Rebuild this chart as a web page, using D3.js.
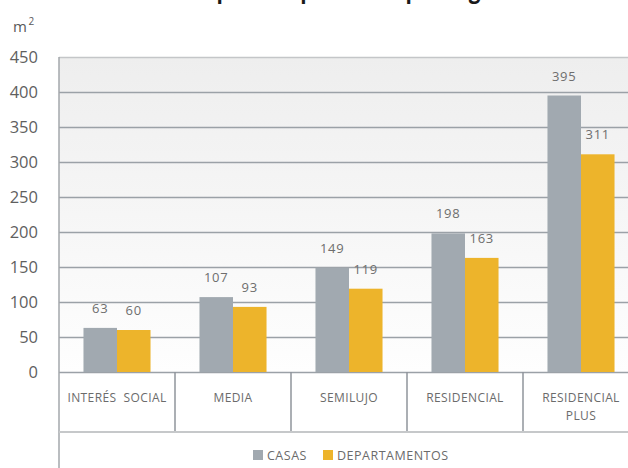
<!DOCTYPE html>
<html>
<head>
<meta charset="utf-8">
<script src="https://cdn.jsdelivr.net/npm/d3@7"></script>
<style>
    body { margin: 0; background: #ffffff; }
    #bar-chart { width: 628px; height: 468px; overflow: hidden; }
    text { font-family: "Open Sans", "DejaVu Sans", sans-serif; }
</style>
</head>
<body>
<div id="bar-chart"></div>
<script>

const categories = ['INTERÉS  SOCIAL', 'MEDIA', 'SEMILUJO', 'RESIDENCIAL', 'RESIDENCIAL PLUS'];
const categoryLines = [['INTERÉS  SOCIAL'], ['MEDIA'], ['SEMILUJO'], ['RESIDENCIAL'], ['RESIDENCIAL', 'PLUS']];
const casas = [63, 107, 149, 198, 395];
const departamentos = [60, 93, 119, 163, 311];
const seriesNames = ['CASAS', 'DEPARTAMENTOS'];
const seriesColors = ['#a1a9b0', '#edb42b'];
const yTicks = [0, 50, 100, 150, 200, 250, 300, 350, 400, 450];


const renderBarGraph = function(svgWidth, svgHeight, svgElem) {

    const svgMargin = {top: 57, left: 59};
    const innerWidth = 580;   // five bands of 116px, the right one runs off the picture
    const innerHeight = 315;
    const tableHeight = 60;

    const xScale = d3.scaleBand()
                     .domain(categories)
                     .range([0, innerWidth]);

    const subScale = d3.scaleBand()
                       .domain(seriesNames)
                       .range([0, xScale.bandwidth() * 0.578]);

    const yScale = d3.scaleLinear()
                     .domain([0, 450])
                     .range([innerHeight, 0]);

    const defs = svgElem.append('defs');
    const grad = defs.append('linearGradient')
                     .attr('id', 'plot-bg')
                     .attr('x1', 0).attr('y1', 0)
                     .attr('x2', 0).attr('y2', 1);
    grad.append('stop').attr('offset', '0%').attr('stop-color', '#eeeeee');
    grad.append('stop').attr('offset', '100%').attr('stop-color', '#fefefe');

    // title, only its descenders fall inside the picture
    svgElem.append('text')
           .attr('x', 370)
           .attr('y', -2.5)
           .attr('text-anchor', 'middle')
           .attr('font-size', 25)
           .attr('font-weight', 'bold')
           .attr('fill', '#1a1a1a')
           .attr('textLength', 357)
           .attr('lengthAdjust', 'spacingAndGlyphs')
           .text('Superficie promedio por segmento');

    const unit = svgElem.append('text')
                        .attr('x', 13)
                        .attr('y', 32)
                        .attr('font-size', 15)
                        .attr('fill', '#595959');
    unit.append('tspan').text('m');
    unit.append('tspan')
        .attr('font-size', 10)
        .attr('dx', 1.5)
        .attr('dy', -7)
        .text('2');

    const svgG = svgElem.append('g')
                        .attr('transform', `translate(${svgMargin.left}, ${svgMargin.top})`);

    svgG.append('rect')
        .attr('x', 0)
        .attr('y', 0)
        .attr('width', innerWidth)
        .attr('height', innerHeight)
        .attr('fill', 'url(#plot-bg)');

    const yAxis = d3.axisLeft(yScale)
                    .tickValues(yTicks)
                    .tickSize(-innerWidth)
                    .tickPadding(21);

    const yAxisGroup = svgG.append('g')
                           .attr('id', 'y-axis')
                           .call(yAxis);

    yAxisGroup.select('.domain').remove();
    yAxisGroup.selectAll('.tick line')
              .attr('stroke', function(d) {
                  return d === 450 ? '#c4c6c8' : '#9ba1a7';
              })
              .attr('stroke-width', 1.5);
    yAxisGroup.selectAll('.tick text')
              .attr('font-size', 16.5)
              .attr('fill', '#5f5f5f')
              .style('font-family', '"Open Sans", sans-serif');

    // left axis line, runs down through the table to the bottom
    svgG.append('line')
        .attr('x1', 0).attr('x2', 0)
        .attr('y1', 0).attr('y2', svgHeight)
        .attr('stroke', '#a3a7ab')
        .attr('stroke-width', 1.5);

    const groups = svgG.selectAll('.bar-group')
                       .data(categories)
                       .enter()
                       .append('g')
                       .attr('class', 'bar-group')
                       .attr('transform', function(d) {
                           const offset = xScale(d) + xScale.bandwidth() / 2 - subScale.range()[1] / 2;
                           return `translate(${offset}, 0)`;
                       });

    const barData = function(d, i) {
        return [
            {name: seriesNames[0], value: casas[i], color: seriesColors[0]},
            {name: seriesNames[1], value: departamentos[i], color: seriesColors[1]}
        ];
    };

    groups.selectAll('rect')
          .data(barData)
          .enter()
          .append('rect')
          .attr('x', function(d) { return subScale(d.name); })
          .attr('y', function(d) { return yScale(d.value); })
          .attr('width', subScale.bandwidth())
          .attr('height', function(d) { return innerHeight - yScale(d.value); })
          .attr('fill', function(d) { return d.color; });

    groups.selectAll('.bar-label')
          .data(barData)
          .enter()
          .append('text')
          .attr('class', 'bar-label')
          .attr('x', function(d) { return subScale(d.name) + subScale.bandwidth() / 2; })
          .attr('y', function(d) { return yScale(d.value) - 15; })
          .attr('text-anchor', 'middle')
          .attr('font-size', 13)
          .attr('letter-spacing', 0.8)
          .attr('fill', '#6e6e6e')
          .text(function(d) { return d.value; });

    // category table under the plot
    const table = svgG.append('g')
                      .attr('transform', `translate(0, ${innerHeight})`);

    table.selectAll('.cell-line')
         .data(categories.slice(1).concat(['end']))
         .enter()
         .append('line')
         .attr('class', 'cell-line')
         .attr('x1', function(d) { return d === 'end' ? innerWidth : xScale(d); })
         .attr('x2', function(d) { return d === 'end' ? innerWidth : xScale(d); })
         .attr('y1', 0)
         .attr('y2', tableHeight)
         .attr('stroke', '#8f959b')
         .attr('stroke-width', 1.5);

    table.append('line')
         .attr('x1', 0)
         .attr('x2', svgWidth)
         .attr('y1', tableHeight)
         .attr('y2', tableHeight)
         .attr('stroke', '#c6c8ca')
         .attr('stroke-width', 2);

    const labels = table.selectAll('.cat-label')
                        .data(categories)
                        .enter()
                        .append('text')
                        .attr('class', 'cat-label')
                        .attr('x', function(d) { return xScale(d) + xScale.bandwidth() / 2; })
                        .attr('y', 30)
                        .attr('text-anchor', 'middle')
                        .attr('font-size', 12)
                        .attr('letter-spacing', 0.4)
                        .attr('fill', '#6b6b6b');

    labels.selectAll('tspan')
          .data(function(d, i) { return categoryLines[i]; })
          .enter()
          .append('tspan')
          .attr('x', function() { return d3.select(this.parentNode).attr('x'); })
          .attr('dy', function(d, i) { return i === 0 ? 0 : 18; })
          .style('white-space', 'pre')
          .text(function(d) { return d; });

    // legend
    const legendX = [253, 323];
    const legend = svgElem.append('g')
                          .attr('transform', 'translate(0, 455)');

    const legendItems = legend.selectAll('.legend-item')
                              .data(seriesNames)
                              .enter()
                              .append('g')
                              .attr('class', 'legend-item')
                              .attr('transform', function(d, i) { return `translate(${legendX[i]}, 0)`; });

    legendItems.append('rect')
               .attr('x', 0)
               .attr('y', -5)
               .attr('width', 10)
               .attr('height', 10)
               .attr('fill', function(d, i) { return seriesColors[i]; });

    legendItems.append('text')
               .attr('x', 14)
               .attr('y', 4.5)
               .attr('font-size', 12.5)
               .attr('letter-spacing', 0.5)
               .attr('fill', '#6b6b6b')
               .text(function(d) { return d; });
};


const setSvg = function() {
    const containerElement = document.getElementById('bar-chart');
    const svgWidth = containerElement.clientWidth;
    const svgHeight = containerElement.clientHeight;

    const svg = d3.select(containerElement)
                  .append('svg')
                  .attr('width', svgWidth)
                  .attr('height', svgHeight);

    return [svgWidth, svgHeight, svg];
};


const svgElement = setSvg();
renderBarGraph(svgElement[0], svgElement[1], svgElement[2]);

</script>
</body>
</html>
